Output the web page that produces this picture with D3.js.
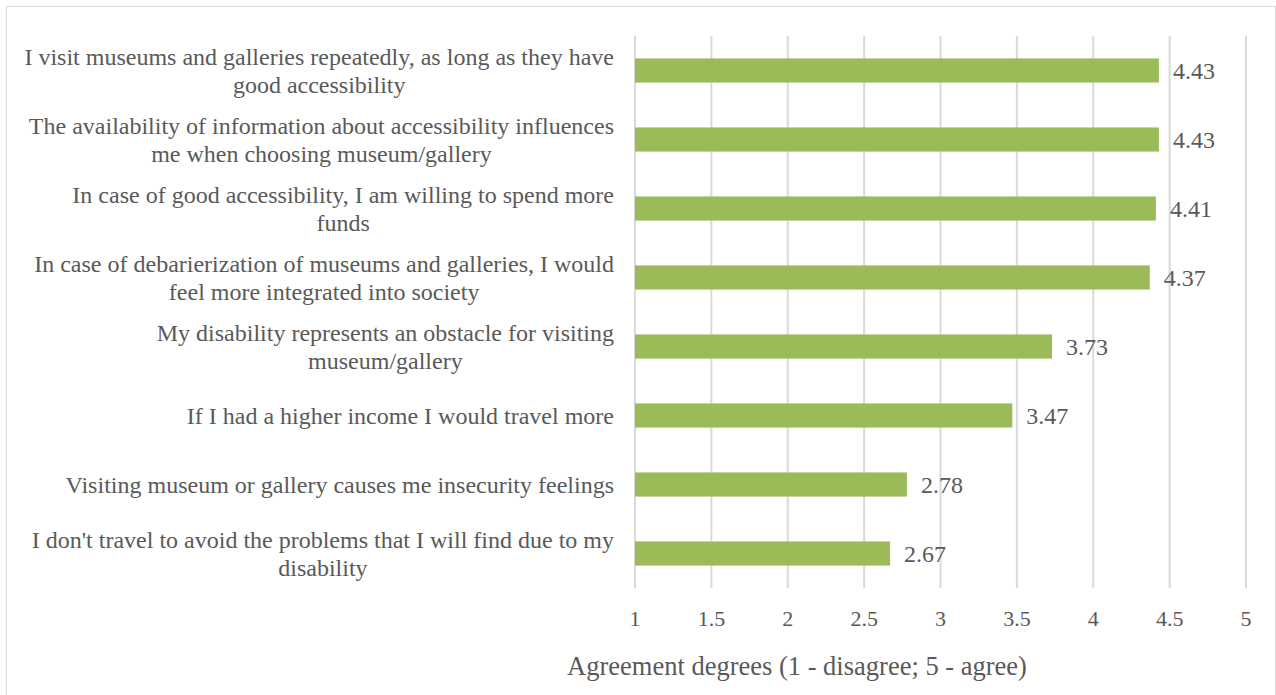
<!DOCTYPE html>
<html>
<head>
<meta charset="utf-8">
<script src="https://cdn.jsdelivr.net/npm/d3@7"></script>
<style>
  body { margin: 0; background: #fff; }
  text { font-family: "Liberation Serif", "Times New Roman", serif; fill: #595959; }
</style>
</head>
<body>
<svg id="chart" width="1276" height="695"></svg>
<script>
// statements, top to bottom
var statements = [
  ["I visit museums and galleries repeatedly, as long as they have", "good accessibility"],
  ["The availability of information about accessibility influences", "me when choosing museum/gallery"],
  ["In case of good accessibility, I am willing to spend more", "funds"],
  ["In case of debarierization of museums and galleries, I would", "feel more integrated into society"],
  ["My disability represents an obstacle for visiting", "museum/gallery"],
  ["If I had a higher income I would travel more"],
  ["Visiting museum or gallery causes me insecurity feelings"],
  ["I don't travel to avoid the problems that I will find due to my", "disability"]
];
var scores = [4.43, 4.43, 4.41, 4.37, 3.73, 3.47, 2.78, 2.67];
var ticks = [1, 1.5, 2, 2.5, 3, 3.5, 4, 4.5, 5];
var axisTitle = "Agreement degrees (1 - disagree; 5 - agree)";

var svg = d3.select("#chart"),
    margin = {top: 36, left: 635, bottom: 107, right: 30},
    width = +svg.attr("width"),
    height = +svg.attr("height");

// outer frame
svg.append("rect")
  .attr("x", 6.5).attr("y", 6.5)
  .attr("width", width - 7).attr("height", height)
  .attr("fill", "none").attr("stroke", "#d9d9d9");

var x = d3.scaleLinear()
  .domain([1, 5])
  .range([margin.left, width - margin.right]);

var idx = d3.range(scores.length);
var y = d3.scaleBand()
  .domain(idx)
  .range([margin.top, height - margin.bottom])
  .paddingInner(0.65).paddingOuter(0.325);

// gridlines
svg.append("g").selectAll("line").data(ticks)
  .enter().append("line")
  .attr("x1", d => x(d)).attr("x2", d => x(d))
  .attr("y1", margin.top).attr("y2", height - margin.bottom)
  .attr("stroke", "#d9d9d9").attr("stroke-width", 2);

// x tick labels
svg.append("g").selectAll("text").data(ticks)
  .enter().append("text")
  .attr("x", d => x(d))
  .attr("y", height - margin.bottom + 38)
  .attr("text-anchor", "middle")
  .style("font-size", "22px")
  .text(d => d);

// bars
svg.append("g").selectAll("rect").data(idx)
  .enter().append("rect")
  .attr("x", x(1))
  .attr("y", i => y(i))
  .attr("width", i => x(scores[i]) - x(1))
  .attr("height", y.bandwidth())
  .attr("fill", "#9bbb59");

// value labels
svg.append("g").selectAll("text").data(idx)
  .enter().append("text")
  .attr("x", i => x(scores[i]) + 14)
  .attr("y", i => y(i) + y.bandwidth() / 2 + 8)
  .style("font-size", "24px")
  .text(i => scores[i].toFixed(2));

// category labels: block right-aligned, lines centred within the block
var labelRight = margin.left - 21;
var labels = svg.append("g").selectAll("text").data(idx)
  .enter().append("text")
  .attr("text-anchor", "middle")
  .style("font-size", "24px")
  .attr("transform", i => `translate(0,${y(i) + y.bandwidth() / 2})`);

labels.selectAll("tspan")
  .data(i => statements[i].map((s, k) => ({s, k, n: statements[i].length})))
  .enter().append("tspan")
  .attr("y", d => (d.k - (d.n - 1) / 2) * 28 + 8)
  .text(d => d.s);

labels.each(function() {
  var spans = d3.select(this).selectAll("tspan");
  var w = d3.max(spans.nodes(), n => n.getComputedTextLength());
  spans.attr("x", labelRight - w / 2);
});

// axis title
svg.append("text")
  .attr("x", 797)
  .attr("y", height - 20)
  .attr("text-anchor", "middle")
  .style("font-size", "26.5px")
  .text(axisTitle);
</script>
</body>
</html>
